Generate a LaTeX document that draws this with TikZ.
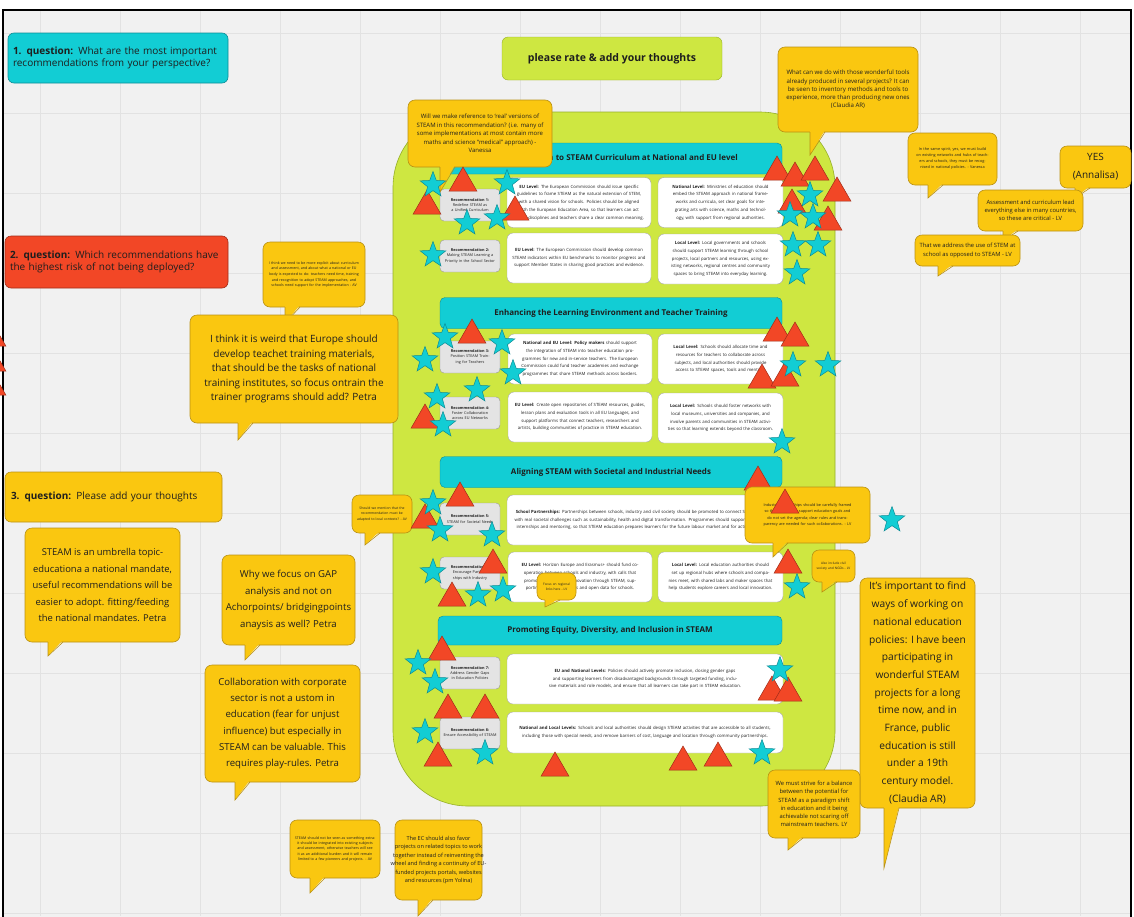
\documentclass[tikz,border=0pt]{standalone}
\usepackage{fontspec}
\setmainfont{Open Sans}
\usetikzlibrary{shapes.geometric}
\definecolor{BoardGray}{RGB}{241,241,241}
\definecolor{GridGray}{RGB}{226,226,226}
\definecolor{MiroCyan}{RGB}{18,205,212}
\definecolor{CyanEdge}{RGB}{12,140,150}
\definecolor{MiroRed}{RGB}{242,71,38}
\definecolor{RedEdge}{RGB}{160,45,25}
\definecolor{MiroYellow}{RGB}{250,199,16}
\definecolor{YellowEdge}{RGB}{185,145,20}
\definecolor{MiroLime}{RGB}{206,231,65}
\definecolor{LimeEdge}{RGB}{150,175,40}
\definecolor{RecGray}{RGB}{228,228,228}
\definecolor{InkDark}{RGB}{30,30,30}
\tikzset{
  qbox/.style={rounded corners=6pt,line width=0.6pt,minimum height=50,align=left,inner sep=4pt,font=\fontsize{10}{12.5}\selectfont,text=InkDark},
  rate/.style={draw=LimeEdge,fill=MiroLime,rounded corners=6pt,minimum width=220,minimum height=43,font=\bfseries\fontsize{10.5}{12}\selectfont,text=InkDark},
  limearea/.style={draw=LimeEdge,fill=MiroLime,rounded corners=75pt,line width=0.6pt},
  headbox/.style={draw=CyanEdge,fill=MiroCyan,rounded corners=5pt,minimum width=342,minimum height=31,font=\bfseries\fontsize{8}{10}\selectfont,text=InkDark},
  recbox/.style={draw=gray!80,fill=RecGray,rounded corners=4pt,minimum width=60,minimum height=32,text width=56,align=center,inner sep=1pt,font=\fontsize{3.8}{5.4}\selectfont,text=InkDark},
  txtbox/.style={draw=gray!70,fill=white,rounded corners=6pt,minimum height=50,align=center,inner sep=2pt,font=\fontsize{4.3}{7.8}\selectfont,text=InkDark},
  stickyfill/.style={fill=MiroYellow},
  stickyline/.style={draw=YellowEdge,line width=0.6pt},
  stickytext/.style={align=center,inner sep=0pt,text=InkDark},
  starmark/.style={star,star points=5,star point ratio=2.4,fill=MiroCyan,draw=CyanEdge,line width=0.5pt,minimum size=27,inner sep=0pt},
  trimark/.style={regular polygon,regular polygon sides=3,fill=MiroRed,draw=RedEdge,line width=0.5pt,minimum size=32,inner sep=0pt},
}
% name, x1, y1, x2, y2, tail x, tail tip y, node options, text
\newcommand{\stickynote}[9]{%
  \filldraw[stickyfill,stickyline,rounded corners=7pt] (#2,#3) rectangle (#4,#5);
  \fill[stickyfill] (#6,#5-2) -- (#6,#7) -- (#6+15,#5-2) -- cycle;
  \draw[stickyline] (#6,#5) -- (#6,#7) -- (#6+15,#5);
  \node[stickytext,#8] (#1) at ({(#2+#4)/2},{(#3+#5)/2}) {#9};
}
\begin{document}
\begin{tikzpicture}[x=1pt,y=-1pt]
  \useasboundingbox (0,0) rectangle (1134,916);
  \fill[white] (0,0) rectangle (1134,916);
  \filldraw[fill=BoardGray,draw=black,line width=1.2pt] (3,10) rectangle (1131,940);
  \foreach \gx in {40,120,...,1120} { \draw[GridGray,line width=1pt] (\gx,11) -- (\gx,916); }
  \foreach \gy in {33,113,...,913} { \draw[GridGray,line width=1pt] (4,\gy) -- (1130,\gy); }

  % questions
  \node[qbox,fill=MiroCyan,draw=CyanEdge,minimum width=220,text width=210] (q1) at (118,58)
    {\textbf{1. question:} What are the most important\\recommendations from your perspective?};
  \node[qbox,fill=MiroRed,draw=RedEdge,minimum width=223,minimum height=52,text width=213] (q2) at (116.5,262)
    {\textbf{2. question:} Which recommendations have\\the highest risk of not being deployed?};
  \node[qbox,fill=MiroYellow,draw=YellowEdge,minimum width=217,text width=205] (q3) at (113.5,497)
    {\textbf{3. question:} Please add your thoughts};
  \node[rate] (rate) at (612,58.5) {please rate \& add your thoughts};

  % recommendation board
  \node[limearea,minimum width=442,minimum height=694] (board) at (614,459) {};
  \node[headbox] (head1) at (611,158.5) {Unified Approach to STEAM Curriculum at National and EU level};
  \node[headbox] (head2) at (611,313) {Enhancing the Learning Environment and Teacher Training};
  \node[headbox] (head3) at (611,472) {Aligning STEAM with Societal and Industrial Needs};
  \node[headbox,minimum width=344,minimum height=29] (head4) at (610,630.5) {Promoting Equity, Diversity, and Inclusion in STEAM};

  \node[recbox] (rec1) at (470,205) {\textbf{Recommendation 1:}\\Redefine STEAM as a Unified Curriculum};
  \node[recbox] (rec2) at (470,256) {\textbf{Recommendation 2:}\\Making STEAM Learning a Priority in the School Sector};
  \node[recbox] (rec3) at (470,357) {\textbf{Recommendation 3:}\\Position STEAM Training for Teachers};
  \node[recbox] (rec4) at (470,413) {\textbf{Recommendation 4:}\\Foster Collaboration across EU Networks};
  \node[recbox] (rec5) at (470,519) {\textbf{Recommendation 5:}\\STEAM for Societal Needs};
  \node[recbox] (rec6) at (470,573) {\textbf{Recommendation 6:}\\Encourage Partnerships with Industry};
  \node[recbox] (rec7) at (470,673) {\textbf{Recommendation 7:}\\Address Gender Gaps in Education Policies};
  \node[recbox] (rec8) at (470,733) {\textbf{Recommendation 8:}\\Ensure Accessibility of STEAM};

  \node[txtbox,minimum width=144,text width=136] (txt1a) at (579,202.5) {\textbf{EU Level:} The European Commission should issue specific guidelines to frame STEAM as the natural extension of STEM, with a shared vision for schools. Policies should be aligned with the European Education Area, so that learners can act across disciplines and teachers share a clear common meaning.};
  \node[txtbox,minimum width=125,text width=117] (txt1b) at (720.5,202.5) {\textbf{National Level:} Ministries of education should embed the STEAM approach in national frameworks and curricula, set clear goals for integrating arts with science, maths and technology, with support from regional authorities.};
  \node[txtbox,minimum width=144,text width=136] (txt2a) at (579,258) {\textbf{EU Level:} The European Commission should develop common STEAM indicators within EU benchmarks to monitor progress and support Member States in sharing good practices and evidence.};
  \node[txtbox,minimum width=125,text width=117] (txt2b) at (720.5,259) {\textbf{Local Level:} Local governments and schools should support STEAM learning through school projects, local partners and resources, using existing networks, regional centres and community spaces to bring STEAM into everyday learning.};
  \node[txtbox,minimum width=144,text width=136] (txt3a) at (580,359) {\textbf{National and EU Level: Policy makers} should support the integration of STEAM into teacher education programmes for new and in-service teachers. The European Commission could fund teacher academies and exchange programmes that share STEAM methods across borders.};
  \node[txtbox,minimum width=125,text width=117] (txt3b) at (720.5,359) {\textbf{Local Level:} Schools should allocate time and resources for teachers to collaborate across subjects, and local authorities should provide access to STEAM spaces, tools and mentors.};
  \node[txtbox,minimum width=144,text width=136] (txt4a) at (580,417) {\textbf{EU Level:} Create open repositories of STEAM resources, guides, lesson plans and evaluation tools in all EU languages, and support platforms that connect teachers, researchers and artists, building communities of practice in STEAM education.};
  \node[txtbox,minimum width=125,text width=117] (txt4b) at (720.5,418) {\textbf{Local Level:} Schools should foster networks with local museums, universities and companies, and involve parents and communities in STEAM activities so that learning extends beyond the classroom.};
  \node[txtbox,minimum width=276,text width=268] (txt5) at (645,520) {\textbf{School Partnerships:} Partnerships between schools, industry and civil society should be promoted to connect STEAM learning with real societal challenges such as sustainability, health and digital transformation. Programmes should support joint projects, internships and mentoring, so that STEAM education prepares learners for the future labour market and for active citizenship.};
  \node[txtbox,minimum width=144,text width=136] (txt6a) at (580,577) {\textbf{EU Level:} Horizon Europe and Erasmus+ should fund cooperation between schools and industry, with calls that promote research and innovation through STEAM, supporting local partnerships and open data for schools.};
  \node[txtbox,minimum width=125,text width=117] (txt6b) at (720.5,577) {\textbf{Local Level:} Local education authorities should set up regional hubs where schools and companies meet, with shared labs and maker spaces that help students explore careers and local innovation.};
  \node[txtbox,minimum width=276,text width=268] (txt7) at (645,679) {\textbf{EU and National Levels:} Policies should actively promote inclusion, closing gender gaps and supporting learners from disadvantaged backgrounds through targeted funding, inclusive materials and role models, and ensure that all learners can take part in STEAM education.};
  \node[txtbox,minimum width=276,minimum height=41,text width=268] (txt8) at (645,732.5) {\textbf{National and Local Levels:} Schools and local authorities should design STEAM activities that are accessible to all students, including those with special needs, and remove barriers of cost, language and location through community partnerships.};

  % stickies
  \stickynote{realsteam}{408}{100}{552}{167}{440}{192}{font=\fontsize{6}{8.4}\selectfont}
    {Will we make reference to `real' versions of\\STEAM in this recommendation? (i.e. many of\\some implementations at most contain more\\maths and science ``medical'' approach) -\\Vanessa}
  \stickynote{tools}{778}{47}{918}{132}{810}{155}{font=\fontsize{6.1}{8.3}\selectfont}
    {What can we do with those wonderful tools\\already produced in several projects? It can\\be seen to inventory methods and tools to\\experience, more than producing new ones\\(Claudia AR)}
  \stickynote{spirit}{908}{133}{997}{185}{928}{198}{font=\fontsize{3.8}{6}\selectfont,text width=80}
    {In the same spirit, yes, we must build on existing networks and hubs of teachers and schools, they must be recognised in national policies. - Vanessa}
  \stickynote{yes}{1060}{146}{1131}{188}{1075}{198}{font=\fontsize{10}{18}\selectfont}
    {YES\\(Annalisa)}
  \stickynote{assess}{978}{190}{1083}{231}{1003}{241}{font=\fontsize{5.8}{8.3}\selectfont}
    {Assessment and curriculum lead\\everything else in many countries,\\so these are critical - LV}
  \stickynote{stemuse}{915}{235}{1020}{266}{938}{276}{font=\fontsize{5.8}{8.3}\selectfont}
    {That we address the use of STEM at\\school as opposed to STEAM - LV}
  \stickynote{explicit}{263}{242}{365}{307}{285}{323}{font=\fontsize{3.6}{5.6}\selectfont,text width=92}
    {I think we need to be more explicit about curriculum and assessment, and about what a national or EU body is expected to do: teachers need time, training and recognition to adopt STEAM approaches, and schools need support for the implementation - AV}
  \stickynote{weird}{190}{315}{398}{423}{238}{440}{font=\fontsize{10}{14.6}\selectfont}
    {I think it is weird that Europe should\\develop teachet training materials,\\that should be the tasks of national\\training institutes, so focus ontrain the\\trainer programs should add? Petra}
  \stickynote{adapt}{352}{495}{412}{533}{365}{545}{font=\fontsize{3.4}{5.4}\selectfont,text width=52}
    {Should we mention that the recommendation must be adapted to local contexts? - AV}
  \stickynote{focus}{537}{573}{576}{600}{545}{607}{font=\fontsize{3.2}{5}\selectfont,text width=34}
    {Focus on regional links here - LV}
  \stickynote{umbrella}{25}{528}{180}{642}{48}{656}{font=\fontsize{9.4}{16.5}\selectfont}
    {STEAM is an umbrella topic-\\educationa a national mandate,\\useful recommendations will be\\easier to adopt. fitting/feeding\\the national mandates. Petra}
  \stickynote{gap}{222}{555}{355}{645}{245}{660}{font=\fontsize{9.6}{16.8}\selectfont}
    {Why we focus on GAP\\analysis and not on\\Achorpoints/ bridgingpoints\\anaysis as well? Petra}
  \stickynote{corporate}{205}{665}{360}{782}{235}{800}{font=\fontsize{9.6}{16.2}\selectfont}
    {Collaboration with corporate\\sector is not a ustom in\\education (fear for unjust\\influence) but especially in\\STEAM can be valuable. This\\requires play-rules. Petra}
  \stickynote{policies}{860}{578}{975}{808}{884}{868}{font=\fontsize{10.2}{17.7}\selectfont}
    {It's important to find\\ways of working on\\national education\\policies: I have been\\participating in\\wonderful STEAM\\projects for a long\\time now, and in\\France, public\\education is still\\under a 19th\\century model.\\(Claudia AR)}
  \stickynote{balance}{768}{770}{860}{838}{788}{850}{font=\fontsize{5.8}{8.3}\selectfont}
    {We must strive for a balance\\between the potential for\\STEAM as a paradigm shift\\in education and it being\\achievable not scaring off\\mainstream teachers. LY}
  \stickynote{extra}{290}{820}{380}{878}{310}{893}{font=\fontsize{3.6}{5.4}\selectfont,text width=82}
    {STEAM should not be seen as something extra: it should be integrated into existing subjects and assessment, otherwise teachers will see it as an additional burden and it will remain limited to a few pioneers and projects. - AV}
  \stickynote{ecfavor}{395}{820}{482}{900}{418}{916}{font=\fontsize{5.6}{8.4}\selectfont}
    {The EC should also favor\\projects on related topics to work\\together instead of reinventing the\\wheel and finding a continuity of EU-\\funded projects portals, websites\\and resources (pm Yolina)}

  % ratings
  \foreach \x/\y [count=\i] in {463/183,427/206,515/212,777/172,795/178,815/172,837/193,792/205,828/222,
      472/335,777/333,795/338,762/380,785/378,425/420,460/498,425/520,758/482,
      493/565,452/598,788/565,442/652,448/710,485/710,438/758,555/768,683/762,718/758,772/692,788/693,
      -8/338,-8/363,-8/387}
    { \node[trimark] (tri\i) at (\x,\y) {}; }
  \foreach \x/\y [count=\i] in {433/185,507/183,467/223,497/218,433/255,810/195,813/217,790/215,793/245,818/245,797/273,
      445/337,502/343,425/360,513/373,793/365,437/397,477/390,443/425,782/442,828/365,
      433/503,440/530,492/535,892/520,433/572,478/595,503/590,797/587,
      418/663,435/682,425/732,485/753,762/753,780/670}
    { \node[starmark] (star\i) at (\x,\y) {}; }

  \stickynote{industry}{745}{487}{870}{543}{773}{557}{font=\fontsize{3.8}{6.4}\selectfont,text width=115}
    {Industry partnerships should be carefully framed so that companies support education goals and do not set the agenda; clear rules and transparency are needed for such collaborations. - LV}
  \stickynote{ngo}{812}{550}{855}{582}{822}{592}{font=\fontsize{3.2}{5.2}\selectfont,text width=36}
    {Also include civil society and NGOs - LV}
  \node[trimark] (triJ) at (785,505) {};
\end{tikzpicture}
\end{document}
